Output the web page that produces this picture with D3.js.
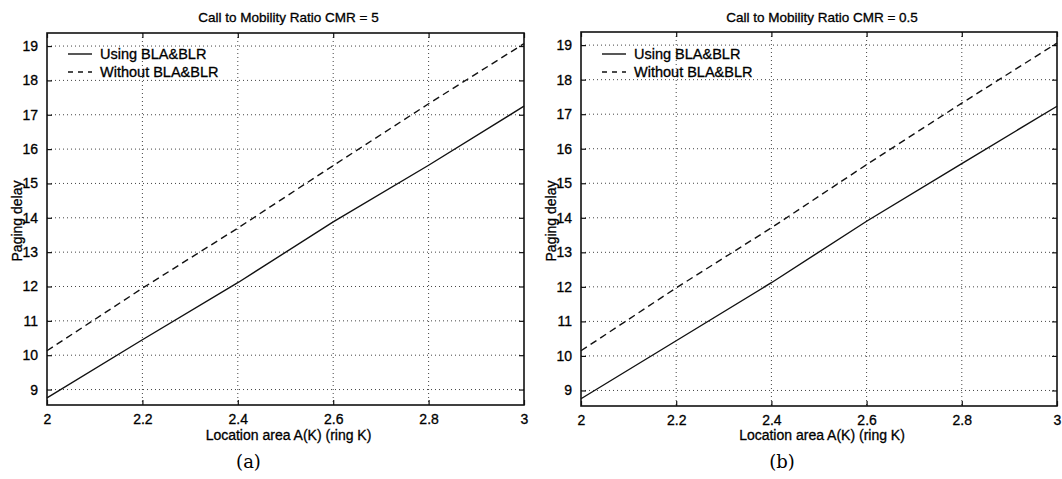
<!DOCTYPE html>
<html>
<head>
<meta charset="utf-8">
<script src="https://cdn.jsdelivr.net/npm/d3@7"></script>
<style>
  html, body { margin: 0; padding: 0; background: #fff; }
  svg text { font-family: "Liberation Sans", Arial, Helvetica, sans-serif; fill: #000; stroke: #000; stroke-width: 0.3px; }
  svg text.cap { stroke-width: 0; }
</style>
</head>
<body>
<svg id="chart" width="1062" height="479"></svg>
<script>
// ---- data ----
const xValues = [2.0, 2.2, 2.4, 2.6, 2.8, 3.0];
const usingA   = [8.76, 10.45, 12.11, 13.88, 15.53, 17.25];
const withoutA = [10.13, 11.95, 13.70, 15.52, 17.32, 19.07];
const usingB   = [8.76, 10.44, 12.12, 13.90, 15.57, 17.23];
const withoutB = [10.15, 11.97, 13.71, 15.54, 17.32, 19.06];
const xTicks = [2, 2.2, 2.4, 2.6, 2.8, 3];
const yTicks = [9, 10, 11, 12, 13, 14, 15, 16, 17, 18, 19];
const seriesNames = ["Using BLA&BLR", "Without BLA&BLR"];
const panelTitles = ["Call to Mobility Ratio CMR = 5", "Call to Mobility Ratio CMR = 0.5"];
const captions = ["(a)", "(b)"];
const xLabel = "Location area A(K) (ring K)";
const yLabel = "Paging delay";

const svg = d3.select("#chart");

const panels = [
  { left: 47, right: 524, top: 33, bottom: 405, using: usingA, without: withoutA, title: panelTitles[0], cap: captions[0], yLabX: 22 },
  { left: 581, right: 1057, top: 32, bottom: 406, using: usingB, without: withoutB, title: panelTitles[1], cap: captions[1], yLabX: 556 }
];

panels.forEach(p => {
  const x = d3.scaleLinear().domain([2, 3]).range([p.left, p.right]);
  const y = d3.scaleLinear().domain([8.55, 19.38]).range([p.bottom, p.top]);
  const g = svg.append("g");

  // grid
  g.append("g").selectAll("line").data(xTicks.slice(1, -1)).join("line")
    .attr("x1", d => x(d)).attr("x2", d => x(d))
    .attr("y1", p.top).attr("y2", p.bottom)
    .attr("stroke", "#444").attr("stroke-width", 1).attr("stroke-dasharray", "1,3");
  g.append("g").selectAll("line").data(yTicks).join("line")
    .attr("x1", p.left).attr("x2", p.right)
    .attr("y1", d => y(d)).attr("y2", d => y(d))
    .attr("stroke", "#444").attr("stroke-width", 1).attr("stroke-dasharray", "1,3");

  // axes (bottom / left with labels; inward ticks on all sides)
  const ax = d3.axisBottom(x).tickValues(xTicks).tickSizeInner(-5).tickSizeOuter(0)
    .tickPadding(9).tickFormat(d3.format("~g"));
  const gx = g.append("g").attr("transform", `translate(0,${p.bottom})`).call(ax);
  const ay = d3.axisLeft(y).tickValues(yTicks).tickSizeInner(-5).tickSizeOuter(0)
    .tickPadding(9).tickFormat(d3.format("~g"));
  const gy = g.append("g").attr("transform", `translate(${p.left},0)`).call(ay);
  const at = d3.axisTop(x).tickValues(xTicks).tickSizeInner(-5).tickSizeOuter(0).tickFormat("");
  const gt = g.append("g").attr("transform", `translate(0,${p.top})`).call(at);
  const ar = d3.axisRight(y).tickValues(yTicks).tickSizeInner(-5).tickSizeOuter(0).tickFormat("");
  const gr = g.append("g").attr("transform", `translate(${p.right},0)`).call(ar);
  [gx, gy, gt, gr].forEach(a => {
    a.select(".domain").remove();
    a.selectAll("line").attr("stroke", "#111").attr("stroke-width", 1.2);
    a.selectAll("text").attr("font-size", "14px").attr("fill", "#000")
      .attr("font-family", "Liberation Sans, Arial, sans-serif");
  });

  // box
  g.append("rect").attr("x", p.left).attr("y", p.top)
    .attr("width", p.right - p.left).attr("height", p.bottom - p.top)
    .attr("fill", "none").attr("stroke", "#111").attr("stroke-width", 1.6);

  // lines
  const line = d3.line().x((d, i) => x(xValues[i])).y(d => y(d));
  g.append("path").datum(p.using).attr("d", line)
    .attr("fill", "none").attr("stroke", "#111").attr("stroke-width", 1.4);
  g.append("path").datum(p.without).attr("d", line)
    .attr("fill", "none").attr("stroke", "#111").attr("stroke-width", 1.4)
    .attr("stroke-dasharray", "7,4.5");

  // legend
  const lx = p.left + 21, ly1 = 54, ly2 = 72;
  g.append("line").attr("x1", lx).attr("x2", lx + 24).attr("y1", ly1).attr("y2", ly1)
    .attr("stroke", "#111").attr("stroke-width", 1.4);
  g.append("line").attr("x1", lx).attr("x2", lx + 24).attr("y1", ly2).attr("y2", ly2)
    .attr("stroke", "#111").attr("stroke-width", 1.4).attr("stroke-dasharray", "5,5");
  g.append("text").attr("x", lx + 32).attr("y", ly1 + 5).attr("font-size", "14.5px").text(seriesNames[0]);
  g.append("text").attr("x", lx + 32).attr("y", ly2 + 5).attr("font-size", "14.5px").text(seriesNames[1]);

  // title
  g.append("text").attr("x", (p.left + p.right) / 2 + 3).attr("y", 22)
    .attr("text-anchor", "middle").attr("font-size", "13.5px").text(p.title);

  // axis labels
  g.append("text").attr("x", (p.left + p.right) / 2 + 3).attr("y", 440)
    .attr("text-anchor", "middle").attr("font-size", "14px").text(xLabel);
  g.append("text")
    .attr("transform", `translate(${p.yLabX},${(p.top + p.bottom) / 2 + 2}) rotate(-90)`)
    .attr("text-anchor", "middle").attr("font-size", "14px").text(yLabel);

  // caption
  g.append("text").attr("class", "cap").attr("x", (p.left + p.right) / 2 - 37).attr("y", 468)
    .attr("text-anchor", "middle").attr("font-size", "18px")
    .style("font-family", "'DejaVu Serif', 'Liberation Serif', serif").text(p.cap);
});
</script>
</body>
</html>
